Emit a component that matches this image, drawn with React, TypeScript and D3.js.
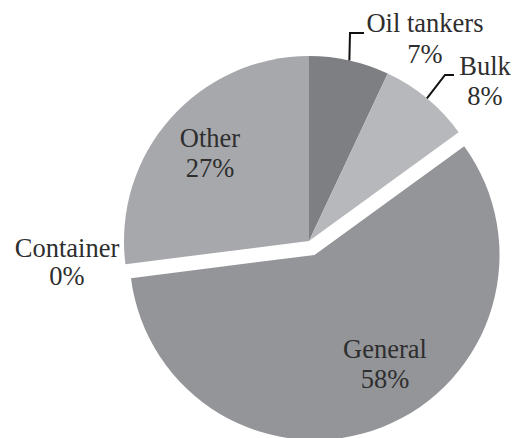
import React from "react";
import * as d3 from "d3";

const categories = ["Oil tankers", "Bulk", "General", "Container", "Other"];
const values = [7, 8, 58, 0, 27];
const percentLabels = ["7%", "8%", "58%", "0%", "27%"];
const colors = ["#7e7f83", "#b7b8bb", "#949599", "#8a8b8f", "#a7a8ac"];
const explodedIndex = 2;

// label layout relative to pie center: x = text center, b1/b2 = baselines of the two lines
type Lay = { x: number; b1: number; b2: number; elbow?: [number, number]; end?: [number, number] };
const labelLayout: Record<string, Lay> = {
  "Oil tankers": { x: 116, b1: -209, b2: -178, elbow: [41, -208], end: [55, -208] },
  Bulk: { x: 176, b1: -166, b2: -136, elbow: [136, -166], end: [145, -166] },
  General: { x: 76, b1: 117, b2: 147 },
  Container: { x: -242, b1: 16, b2: 44 },
  Other: { x: -99, b1: -94, b2: -64 },
};

const W = 513;
const H = 438;
const cx = 309;
const cy = 241;
const R = 185;
const explode = 15;
const fontSize = 26.5;

export default function App() {
  const data = categories.map((c, i) => ({ cat: c, value: values[i], i }));
  const pie = d3
    .pie<{ cat: string; value: number; i: number }>()
    .sort(null)
    .value((d) => d.value)
    .startAngle(0)
    .endAngle(2 * Math.PI);
  const arcs = pie(data);
  const arcGen = d3.arc<d3.PieArcDatum<any>>().innerRadius(0).outerRadius(R);

  const offsetOf = (a: d3.PieArcDatum<any>) => {
    if (a.index !== explodedIndex) return [0, 0];
    const m = (a.startAngle + a.endAngle) / 2;
    return [Math.sin(m) * explode, -Math.cos(m) * explode];
  };

  return (
    <svg
      width={W}
      height={H}
      style={{ position: "absolute", left: 0, top: 0, background: "#fff" }}
      fontFamily="'Liberation Serif', 'Times New Roman', serif"
    >
      <g transform={`translate(${cx},${cy})`}>
        {arcs.map((a) => {
          const [ox, oy] = offsetOf(a);
          if (a.value === 0) return null;
          return (
            <path
              key={a.data.cat}
              d={arcGen(a) || ""}
              transform={`translate(${ox},${oy})`}
              fill={colors[a.index]}
            />
          );
        })}
        {arcs.map((a) => {
          const lay = labelLayout[a.data.cat];
          const [ox, oy] = offsetOf(a);
          let leader = null;
          if (lay.elbow && lay.end) {
            const m = (a.startAngle + a.endAngle) / 2;
            const sx = Math.sin(m) * R + ox;
            const sy = -Math.cos(m) * R + oy;
            leader = (
              <polyline
                points={`${sx},${sy} ${lay.elbow[0]},${lay.elbow[1]} ${lay.end[0]},${lay.end[1]}`}
                fill="none"
                stroke="#111"
                strokeWidth={2}
              />
            );
          }
          return (
            <g key={"l" + a.data.cat}>
              {leader}
              <text x={lay.x} y={lay.b1} textAnchor="middle" fontSize={fontSize} fill="#2e2e2e">
                {a.data.cat}
              </text>
              <text x={lay.x} y={lay.b2} textAnchor="middle" fontSize={fontSize} fill="#2e2e2e">
                {percentLabels[a.index]}
              </text>
            </g>
          );
        })}
      </g>
    </svg>
  );
}
